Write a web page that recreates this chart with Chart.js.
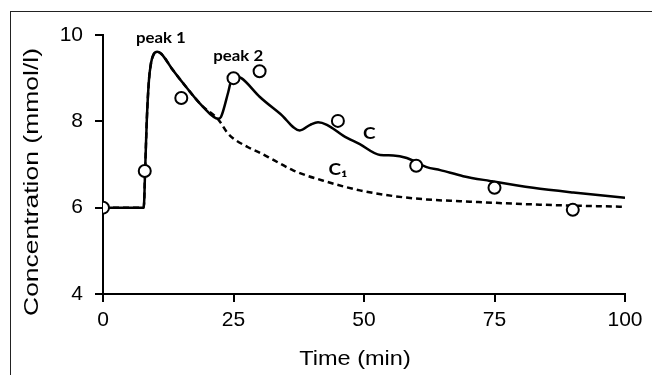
<!DOCTYPE html>
<html>
<head>
<meta charset="utf-8">
<script src="https://cdn.jsdelivr.net/npm/chart.js@4.4.1/dist/chart.umd.min.js"></script>
<style>
  html, body { margin: 0; padding: 0; background: #fff; }
  #wrap { position: relative; width: 652px; height: 375px; overflow: hidden; }
  #frame { position: absolute; left: 10px; top: 11px; width: 700px; height: 400px;
           border-left: 1.5px solid #222; border-top: 1.5px solid #222; }
  canvas { position: absolute; left: 0; top: 0; }
</style>
</head>
<body>
<div id="wrap">
  <div id="frame"></div>
  <canvas id="concChart" width="652" height="375"></canvas>
</div>
<script>
// model curve C (solid)
var timeC = [0, 7.8, 8.1, 8.4, 8.8, 9.2, 9.7, 10.4, 11.2, 13.2, 15.7, 18.9, 22.1, 22.6, 24.0, 24.6, 25.9, 26.5,
             30.0, 34.0, 37.7, 39.7, 41.2, 42.9, 46.0, 49.2, 53.1, 55.6, 58.2, 62.0, 64.6, 69.0,
             74.1, 82.4, 90.1, 100];
var concC = [6, 6, 6.98, 8.06, 8.95, 9.35, 9.55, 9.61, 9.56, 9.22, 8.83, 8.37, 8.06, 8.1, 8.68, 8.95, 9.02, 9.0,
             8.57, 8.17, 7.79, 7.92, 7.98, 7.92, 7.67, 7.47, 7.22, 7.21, 7.15, 6.94, 6.87, 6.73,
             6.62, 6.46, 6.35, 6.23];

// single dose curve C1 (dashed)
var timeC1 = [0, 7.8, 8.1, 8.4, 8.8, 9.2, 9.7, 10.4, 11.2, 13.2, 15.7, 18.9, 22.1, 24.0, 27.8, 30.1, 32.3,
              36.5, 42.9, 49.2, 55.6, 62.0, 68.4, 83.7, 100];
var concC1 = [6, 6, 6.98, 8.06, 8.95, 9.35, 9.55, 9.61, 9.56, 9.22, 8.83, 8.37, 8.04, 7.71, 7.4, 7.27, 7.13,
              6.86, 6.6, 6.4, 6.27, 6.19, 6.15, 6.07, 6.02];

// measured values (circles)
var obsTime = [0, 8, 15, 25, 30, 45, 60, 75, 90];
var obsConc = [6, 6.85, 8.54, 9.0, 9.16, 8.01, 6.97, 6.46, 5.95];

var xTicks = [0, 25, 50, 75, 100];
var yTicks = [4, 6, 8, 10];

var noteText = ['peak 1', 'peak 2', 'C', 'C\u2081'];
var noteTime = [11.1, 25.9, 51.0, 45.0];
var noteConc = [9.92, 9.52, 7.71, 6.88];

function toPoints(xs, ys) {
  return xs.map(function(x, i) { return {x: x, y: ys[i]}; });
}

// axis titles + curve labels
var textPlugin = {
  id: 'texts',
  afterDraw: function(chart) {
    var ctx = chart.ctx;
    var sx = chart.scales.x, sy = chart.scales.y;
    ctx.save();
    ctx.fillStyle = '#000';
    ctx.textAlign = 'center';
    ctx.textBaseline = 'alphabetic';

    ctx.font = '21px "Liberation Sans", Arial, sans-serif';
    ctx.save();
    ctx.translate(355, 365);
    ctx.scale(1.12, 1);
    ctx.fillText('Time (min)', 0, 0);
    ctx.restore();

    var yTitle = 'Concentration (mmol/l)';
    var w = ctx.measureText(yTitle).width;
    ctx.save();
    ctx.translate(38, 182);
    ctx.rotate(-Math.PI / 2);
    ctx.scale(268 / w, 1);
    ctx.fillText(yTitle, 0, 0);
    ctx.restore();

    ctx.textBaseline = 'middle';
    noteText.forEach(function(txt, i) {
      ctx.font = (i < 2 ? 'bold 15px' : 'bold 17px') + ' Lato, "Open Sans", sans-serif';
      ctx.save();
      ctx.translate(sx.getPixelForValue(noteTime[i]), sy.getPixelForValue(noteConc[i]));
      ctx.scale(1.12, 1);
      ctx.fillText(txt, 0, 0);
      ctx.restore();
    });
    ctx.restore();
  }
};

var tickFont = {family: '"Liberation Sans", Arial, sans-serif', size: 21};

new Chart(document.getElementById('concChart').getContext('2d'), {
  type: 'line',
  data: {
    datasets: [{
      label: 'measured',
      data: toPoints(obsTime, obsConc),
      showLine: false,
      pointRadius: 6,
      pointBackgroundColor: '#fff',
      pointBorderColor: '#000',
      pointBorderWidth: 2,
      order: 0
    }, {
      label: 'C',
      data: toPoints(timeC, concC),
      borderColor: '#000',
      borderWidth: 2.5,
      pointRadius: 0,
      cubicInterpolationMode: 'monotone',
      order: 1
    }, {
      label: 'C1',
      data: toPoints(timeC1, concC1),
      borderColor: '#000',
      borderWidth: 2.5,
      borderDash: [6, 4],
      pointRadius: 0,
      cubicInterpolationMode: 'monotone',
      order: 2
    }]
  },
  options: {
    responsive: false,
    animation: false,
    layout: {padding: {top: 35, right: 27, left: 0, bottom: 0}},
    plugins: {legend: {display: false}, tooltip: {enabled: false}},
    scales: {
      x: {
        type: 'linear',
        min: 0,
        max: 100,
        afterBuildTicks: function(scale) {
          scale.ticks = xTicks.map(function(v) { return {value: v}; });
        },
        afterFit: function(scale) { scale.height = 81; },
        ticks: {color: '#000', font: tickFont, padding: 6, maxRotation: 0},
        grid: {drawOnChartArea: false, drawTicks: true, tickLength: 8, color: '#000', lineWidth: 2},
        border: {display: true, color: '#000', width: 2}
      },
      y: {
        min: 4,
        max: 10,
        afterBuildTicks: function(scale) {
          scale.ticks = yTicks.map(function(v) { return {value: v}; });
        },
        afterFit: function(scale) { scale.width = 103; },
        ticks: {color: '#000', font: tickFont, padding: 12},
        grid: {drawOnChartArea: false, drawTicks: true, tickLength: 8, color: '#000', lineWidth: 2},
        border: {display: true, color: '#000', width: 2}
      }
    }
  },
  plugins: [textPlugin]
});
</script>
</body>
</html>
